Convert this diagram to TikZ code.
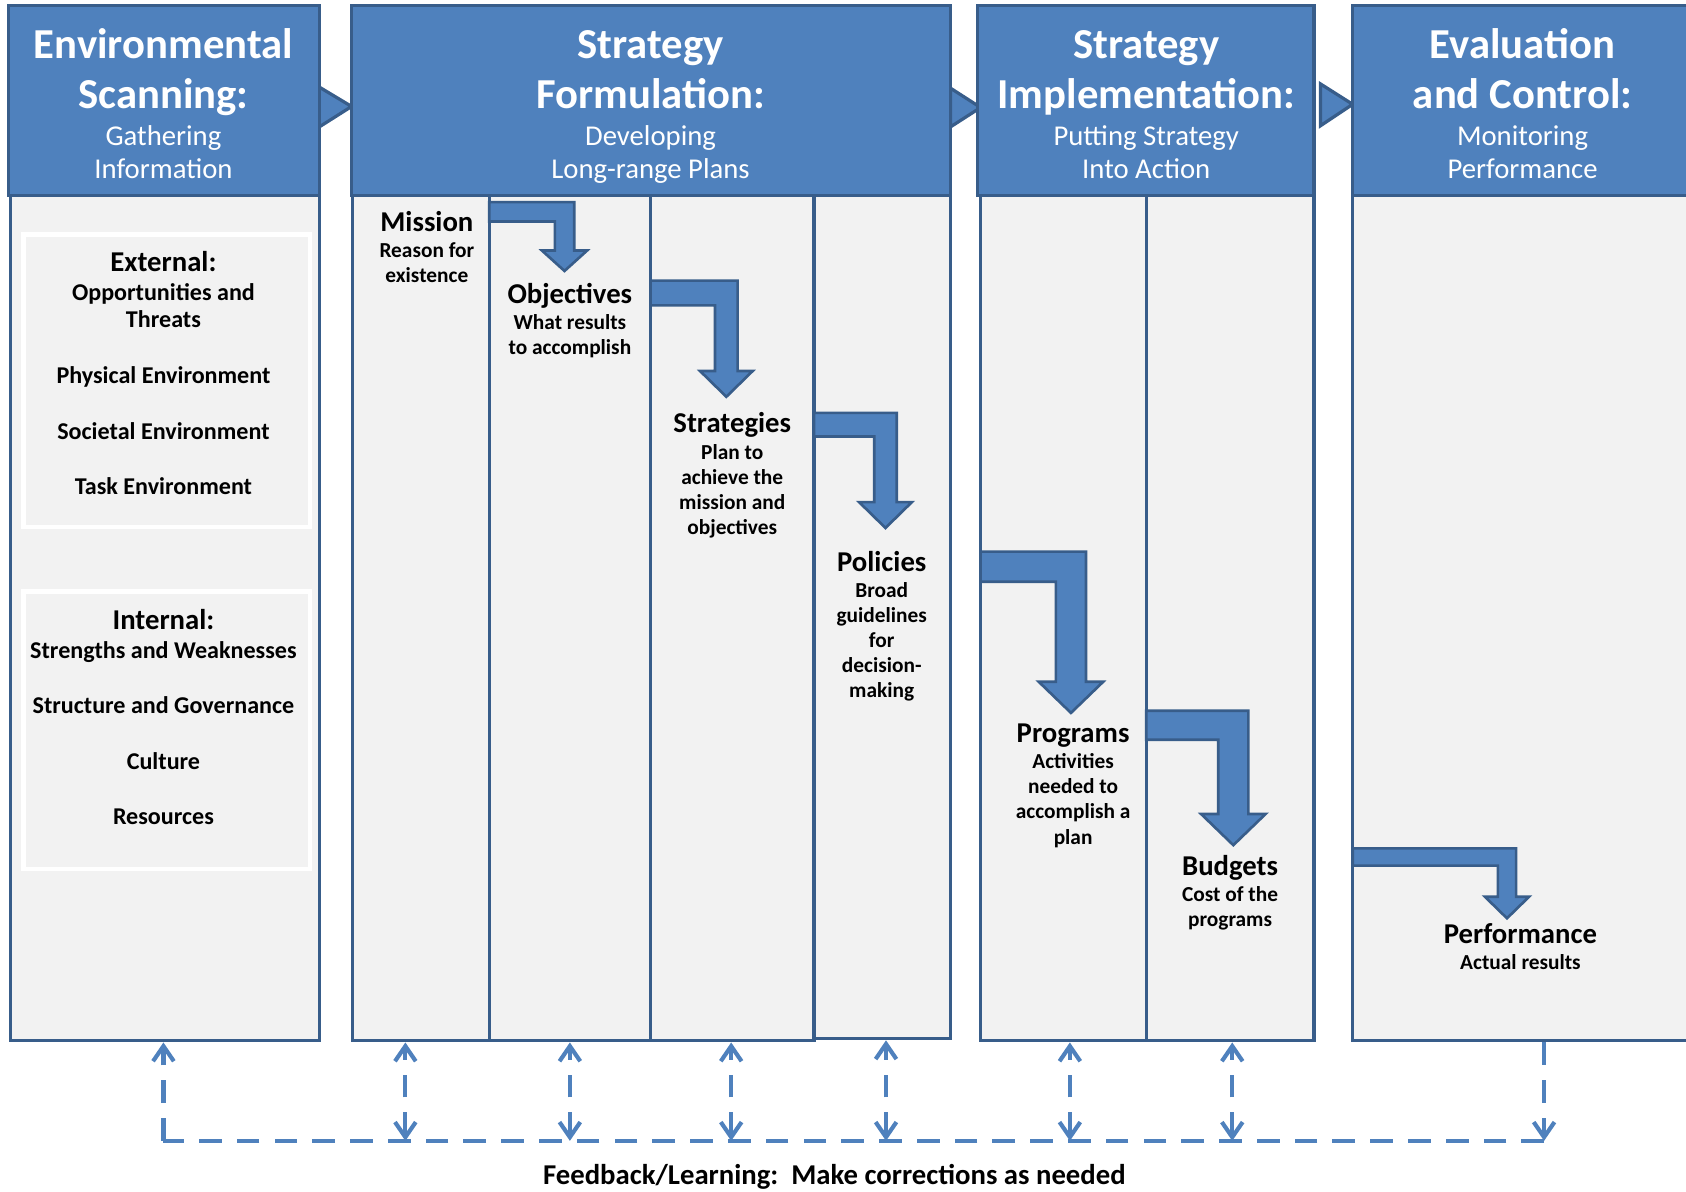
\documentclass[tikz,border=0pt]{standalone}
\usepackage{fontspec}
\setmainfont{Carlito}
\usetikzlibrary{fit,arrows.meta}

\definecolor{hdblue}{HTML}{4F81BD}
\definecolor{hdline}{HTML}{385D8A}
\definecolor{lanegray}{HTML}{F2F2F2}

\tikzset{
  head/.style={draw=hdline, fill=hdblue, line width=1.7pt, inner sep=0pt},
  lane/.style={draw=hdline, fill=lanegray, line width=1.7pt, inner sep=0pt},
  group/.style={draw=white, fill=lanegray, line width=2.3pt, inner sep=0pt},
  htitle/.style={text=white, font=\bfseries\fontsize{22.6}{26.6}\selectfont, align=center, anchor=base, inner sep=0pt},
  hsub/.style={text=white, font=\fontsize{15.2}{17.6}\selectfont, align=center, anchor=base, inner sep=0pt},
  stage/.style={font=\bfseries\fontsize{11.3}{13.3}\selectfont, align=center, anchor=base, inner sep=0pt},
  factor/.style={font=\bfseries\fontsize{12.75}{14.7}\selectfont, align=center, anchor=base, inner sep=0pt},
  blockarrow/.style={draw=hdline, fill=hdblue, line width=1.4pt, line join=miter},
  feedback/.style={draw=hdblue, line width=2.2pt, dash pattern=on 12pt off 8pt}
}

% bold title line above the smaller description
\newcommand{\Stage}[1]{{\fontsize{15.2}{15}\selectfont #1}\\[0.5pt]}
% bent block arrow: x0, top, bottom, shaft left, shaft right, head y, head overhang, tip y
\newcommand{\BendArrow}[8]{%
  \draw[blockarrow] (#1,#2) -- (#5,#2) -- (#5,#6) -- ({#5+#7},#6) -- ({(#4+#5)/2},#8)
    -- ({#4-#7},#6) -- (#4,#6) -- (#4,#3) -- (#1,#3) -- cycle;}

\begin{document}
\begin{tikzpicture}[x=0.02cm, y=-0.02cm, >={Straight Barb[length=8pt,width=11pt]}]
  \useasboundingbox (0,0) rectangle (1568,1108);

  % Header pointers
  \draw[head, line join=miter] (297,81) -- (327,99) -- (297,118) -- cycle;
  \draw[head, line join=miter] (884,82) -- (912,100) -- (884,118) -- cycle;
  \draw[head, line join=miter] (1228,78) -- (1258,97) -- (1228,117) -- cycle;

  % Define nodes
  \node[head, fit={(8,5) (297,182)}] (env-h) {};
  \node[head, fit={(327,5) (884,182)}] (form-h) {};
  \node[head, fit={(909,5) (1222,182)}] (impl-h) {};
  \node[head, fit={(1258,5) (1580,182)}] (eval-h) {};

  \node[lane, fit={(10,182) (297,968)}] (env) {};
  \node[lane, fit={(328,182) (455,968)}] (mis) {};
  \node[lane, fit={(455,182) (605,968)}] (obj) {};
  \node[lane, fit={(605,182) (757,968)}] (str) {};
  \node[lane, fit={(757,182) (884,966)}] (pol) {};
  \node[lane, fit={(912,182) (1066,968)}] (prg) {};
  \node[lane, fit={(1066,182) (1222,968)}] (bud) {};
  \node[lane, fit={(1258,182) (1614,968)}] (perf) {};

  \node[group, fit={(22,218) (288,490)}] (ext-box) {};
  \node[group, fit={(22,550) (288,808)}] (int-box) {};

  \node[htitle] (env-t) at (152,101) {Environmental\\Scanning:};
  \node[hsub] (env-s) at (152,166) {Gathering\\Information};
  \node[htitle] (form-t) at (605,101) {Strategy\\Formulation:};
  \node[hsub] (form-s) at (605,166) {Developing\\Long-range Plans};
  \node[htitle] (impl-t) at (1066,101) {Strategy\\Implementation:};
  \node[hsub] (impl-s) at (1066,166) {Putting Strategy\\Into Action};
  \node[htitle] (eval-t) at (1416,101) {Evaluation\\and Control:};
  \node[hsub] (eval-s) at (1416,166) {Monitoring\\Performance};

  \node[factor] (ext) at (152,460) {\Stage{External:}Opportunities and\\Threats\\[14.7pt]Physical Environment\\[14.7pt]Societal Environment\\[14.7pt]Task Environment};
  \node[factor] (int) at (152,767) {\Stage{Internal:}Strengths and Weaknesses\\[14.7pt]Structure and Governance\\[14.7pt]Culture\\[14.7pt]Resources};

  \node[stage] (mission) at (397,263) {\Stage{Mission}Reason for\\existence};
  \node[stage] (objectives) at (530,330) {\Stage{Objectives}What results\\to accomplish};
  \node[stage] (strategies) at (681,497) {\Stage{Strategies}Plan to\\achieve the\\mission and\\objectives};
  \node[stage] (policies) at (820,649) {\Stage{Policies}Broad\\guidelines\\for\\decision-\\making};
  \node[stage] (programs) at (998,785) {\Stage{Programs}Activities\\needed to\\accomplish a\\plan};
  \node[stage] (budgets) at (1144,862) {\Stage{Budgets}Cost of the\\programs};
  \node[stage] (performance) at (1414,902) {\Stage{Performance}Actual results};

  % Flow between the lanes
  \BendArrow{455}{188}{206}{516}{534}{233}{12}{252}
  \BendArrow{605}{261}{284}{665}{686}{345}{14}{369}
  \BendArrow{757}{384}{406}{813}{834}{467}{14}{491}
  \BendArrow{912}{513}{541}{982}{1010}{634}{16}{663}
  \BendArrow{1066}{661}{688}{1133}{1161}{757}{16}{786}
  \BendArrow{1258}{789}{805}{1393}{1410}{834}{12}{854}

  % Feedback loop
  \coordinate (fb-env) at (152,1061);
  \coordinate (fb-mis) at (377,1061);
  \coordinate (fb-obj) at (530,1061);
  \coordinate (fb-str) at (680,1061);
  \coordinate (fb-pol) at (824,1061);
  \coordinate (fb-prg) at (995,1061);
  \coordinate (fb-bud) at (1146,1061);
  \coordinate (fb-perf) at (1436,1061);

  \draw[feedback, ->] (fb-perf |- perf.south) -- (fb-perf);
  \draw[feedback] (fb-perf) -- (fb-env);
  \draw[feedback, ->] (fb-env) -- (fb-env |- env.south);
  \foreach \lane in {mis,obj,str,pol,prg,bud}
    \draw[feedback, <->] (fb-\lane) -- (fb-\lane |- \lane.south);

  \node[font=\bfseries\fontsize{15.2}{17}\selectfont, anchor=base, inner sep=0pt] (fb-text) at (776,1102) {Feedback/Learning:\ \ Make corrections as needed};
\end{tikzpicture}
\end{document}
